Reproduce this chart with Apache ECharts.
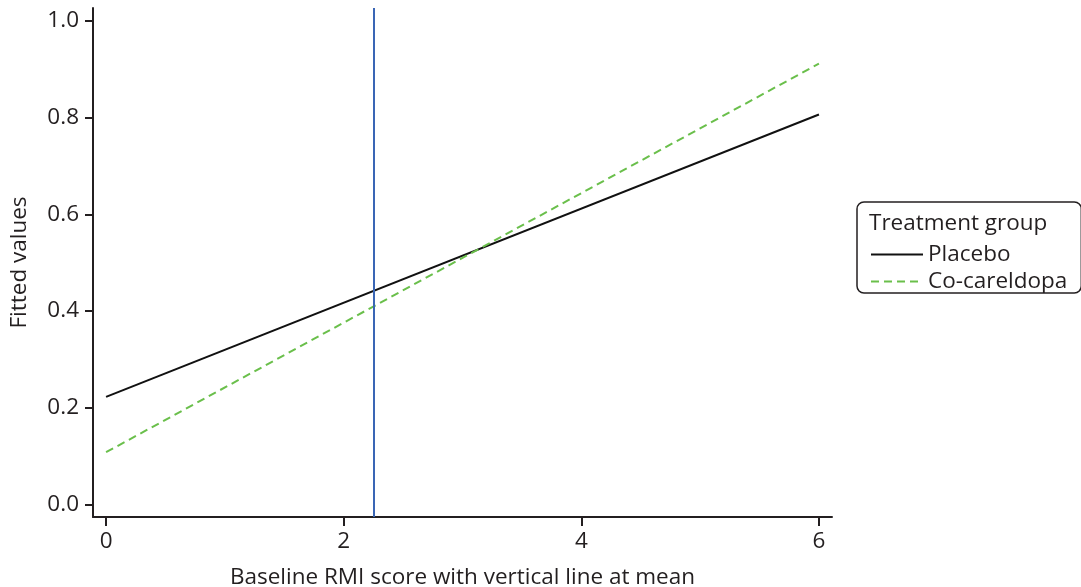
<!DOCTYPE html>
<html>
<head>
<meta charset="utf-8">
<style>
  html, body { margin: 0; padding: 0; background: #ffffff; }
  #chart { width: 1081px; height: 587px; }
</style>
<script src="https://cdn.jsdelivr.net/npm/echarts@6/dist/echarts.min.js"></script>
</head>
<body>
<div id="chart"></div>
<script>
// Fitted values by baseline RMI score, one straight line per treatment group
const groupNames = ['Placebo', 'Co-careldopa'];
const rmiEnds = [0, 6];
const placeboFitted = [0.2225, 0.8066];
const cocareldopaFitted = [0.108, 0.912];
const meanRmi = 2.255;

const xTicks = [0, 2, 4, 6];
const yTicks = [0, 0.2, 0.4, 0.6, 0.8, 1.0];

const ink = '#231f20';
const font = '"Open Sans", "Liberation Sans", sans-serif';
const fs = 22.5;

function pairs(xs, ys) {
  return xs.map((x, i) => [x, ys[i]]);
}

const chart = echarts.init(document.getElementById('chart'), null, { renderer: 'canvas' });

chart.setOption({
  animation: false,
  backgroundColor: '#ffffff',
  textStyle: { fontFamily: font, color: ink },
  title: {
    text: 'Treatment group',
    left: 869,
    top: 212,
    padding: 0,
    textStyle: { fontFamily: font, fontSize: fs, fontWeight: 'normal', color: ink }
  },
  legend: {
    data: groupNames,
    orient: 'vertical',
    left: 857,
    top: 202,
    padding: [41, 14, 0, 13],
    itemGap: 4,
    itemWidth: 52,
    itemHeight: 14,
    borderColor: ink,
    borderWidth: 1.5,
    borderRadius: 7,
    backgroundColor: '#ffffff',
    itemStyle: { opacity: 0 },
    textStyle: { fontFamily: font, fontSize: fs, color: ink }
  },
  grid: {
    left: 93,
    right: 249,
    top: 8,
    bottom: 70,
    containLabel: false,
    outerBoundsMode: 'none'
  },
  xAxis: {
    type: 'value',
    min: -0.11,
    max: 6.11,
    name: 'Baseline RMI score with vertical line at mean',
    nameLocation: 'middle',
    nameGap: 49,
    nameTextStyle: { fontFamily: font, fontSize: fs, color: ink },
    axisLine: { show: true, onZero: false, lineStyle: { color: ink, width: 2 } },
    axisTick: { show: true, customValues: xTicks, length: 9, lineStyle: { color: ink, width: 2 } },
    axisLabel: {
      customValues: xTicks,
      margin: 13,
      fontFamily: font,
      fontSize: fs,
      color: ink
    },
    splitLine: { show: false }
  },
  yAxis: {
    type: 'value',
    min: -0.026,
    max: 1.027,
    name: 'Fitted values',
    nameLocation: 'middle',
    nameGap: 62,
    nameRotate: 90,
    nameTextStyle: { fontFamily: font, fontSize: fs, color: ink },
    axisLine: { show: true, onZero: false, lineStyle: { color: ink, width: 2 } },
    axisTick: { show: true, customValues: yTicks, length: 8, lineStyle: { color: ink, width: 2 } },
    axisLabel: {
      customValues: yTicks,
      margin: 14,
      fontFamily: font,
      fontSize: fs,
      color: ink,
      formatter: v => v.toFixed(1)
    },
    splitLine: { show: false }
  },
  series: [
    {
      name: groupNames[0],
      type: 'line',
      data: pairs(rmiEnds, placeboFitted),
      showSymbol: false,
      symbol: 'none',
      color: '#111111',
      lineStyle: { color: '#111111', width: 2, type: 'solid' },
      z: 3,
      markLine: {
        silent: true,
        symbol: 'none',
        label: { show: false },
        lineStyle: { color: '#3a66b5', width: 2, type: 'solid' },
        data: [{ xAxis: meanRmi }]
      }
    },
    {
      name: groupNames[1],
      type: 'line',
      data: pairs(rmiEnds, cocareldopaFitted),
      showSymbol: false,
      symbol: 'none',
      color: '#6abf4b',
      lineStyle: { color: '#6abf4b', width: 2, type: [8, 5] },
      z: 4
    }
  ]
});
</script>
</body>
</html>
